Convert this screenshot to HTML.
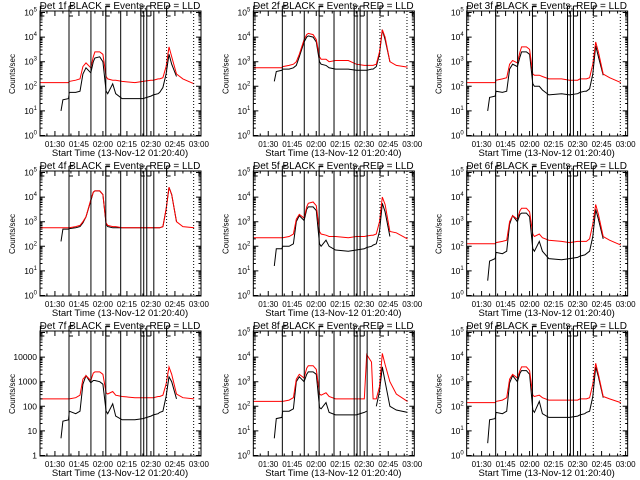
<!DOCTYPE html>
<html><head><meta charset="utf-8"><style>
html,body{margin:0;padding:0;background:#fff;}
svg{display:block;}
text{font-family:"Liberation Sans",sans-serif;fill:#000;}
</style></head><body>
<svg id="chart" width="640" height="480" viewBox="0 0 640 480" xmlns="http://www.w3.org/2000/svg"></svg>
<script>
const times = [80.7,93.8,95,98.5,99,103,105.7,107.5,109.4,112.4,114,115,118,120,122,123,126.1,128,132,140,145,150,151.5,154.5,155.5,157.5,159.5,161.3,163,166,170,177];
const n = null;
const red1 = [2.15,2.15,2.15,2.15,2.2,2.25,2.3,2.8,2.95,2.75,3.2,3.4,3.4,3.3,2.4,2.3,2.25,2.25,2.2,2.15,2.2,2.25,2.25,2.3,2.3,2.35,2.8,3.6,3.2,2.5,2.3,2.1];
const blk1 = [n,1.0,1.45,1.5,1.75,1.75,1.8,2.5,2.75,2.55,3.0,3.15,3.2,3.0,1.8,1.7,2.1,1.7,1.5,1.5,1.5,1.6,1.65,1.7,1.75,1.95,2.5,3.3,2.9,2.4,n,n];
const red2 = [2.75,2.75,2.75,2.75,2.8,2.85,2.9,3.0,3.3,3.9,4.1,4.15,4.1,3.9,3.2,3.1,3.1,3.0,3.05,3.05,2.9,2.85,2.85,2.85,2.85,2.9,3.4,4.3,4.0,3.0,2.85,2.78];
const blk2 = [n,2.2,2.6,2.65,2.7,2.7,2.75,2.85,3.2,3.8,4.0,4.05,4.0,3.8,3.0,2.9,2.85,2.75,2.7,2.7,2.65,2.65,2.65,2.7,2.7,2.8,3.3,4.3,3.9,3.0,n,n];
const red3 = [2.15,2.15,2.15,2.15,2.25,2.3,2.35,2.9,3.05,2.95,3.4,3.6,3.6,3.5,2.5,2.45,2.45,2.4,2.3,2.3,2.25,2.25,2.3,2.3,2.3,2.35,2.9,3.8,3.4,2.5,2.35,2.15];
const blk3 = [n,1.0,1.55,1.6,1.8,1.75,1.8,2.7,2.9,2.8,3.2,3.4,3.4,3.3,2.1,2.0,2.0,1.85,1.65,1.7,1.65,1.7,1.75,1.8,1.8,1.9,2.5,3.65,3.2,2.45,n,n];
const red4 = [2.75,2.75,2.75,2.75,2.75,2.8,2.85,3.0,3.2,3.9,4.2,4.25,4.25,4.1,2.95,2.85,2.8,2.8,2.75,2.75,2.75,2.75,2.75,2.75,2.75,2.8,3.5,4.4,4.1,3.0,2.8,2.75];
const blk4 = [n,2.2,2.7,2.7,2.72,2.75,2.8,2.95,3.2,3.85,4.2,4.25,4.25,4.1,2.9,2.8,2.75,2.75,2.75,2.75,2.75,2.75,2.75,2.75,2.75,2.8,3.5,4.4,4.1,3.0,n,n];
const red5 = [2.35,2.35,2.35,2.35,2.35,2.4,2.5,3.1,3.3,3.15,3.6,3.75,3.8,3.65,2.6,2.5,2.45,2.4,2.4,2.35,2.4,2.4,2.42,2.45,2.45,2.5,3.0,4.0,3.7,2.6,2.55,2.3];
const blk5 = [n,1.2,1.9,1.9,2.0,2.0,2.1,3.0,3.25,3.05,3.5,3.6,3.6,3.45,2.1,2.0,2.25,2.0,1.85,1.8,1.85,1.9,1.95,2.0,2.05,2.1,2.6,3.75,3.4,2.4,n,n];
const red6 = [2.1,2.1,2.1,2.1,2.15,2.2,2.25,3.0,3.25,3.1,3.45,3.55,3.55,3.4,2.5,2.4,2.5,2.35,2.25,2.2,2.15,2.2,2.2,2.2,2.2,2.3,2.9,3.7,3.3,2.4,2.25,2.05];
const blk6 = [n,0.6,1.4,1.5,1.75,1.7,1.8,2.9,3.25,3.0,3.3,3.35,3.35,3.2,1.9,1.8,2.2,1.8,1.5,1.45,1.5,1.55,1.6,1.65,1.7,1.8,2.4,3.5,3.1,2.3,n,n];
const red7 = [2.3,2.3,2.3,2.3,2.3,2.35,2.45,3.1,3.25,3.05,3.35,3.4,3.4,3.3,2.55,2.5,2.6,2.45,2.4,2.35,2.35,2.35,2.35,2.4,2.4,2.45,2.9,3.6,3.3,2.5,2.35,2.3];
const blk7 = [n,0.7,1.4,1.45,1.8,1.7,1.8,2.9,3.25,2.95,3.05,3.05,3.0,2.9,1.8,1.7,2.1,1.6,1.45,1.45,1.5,1.6,1.65,1.7,1.75,1.8,2.4,3.2,3.0,2.3,n,n];
const red8 = [2.2,2.2,2.2,2.2,2.2,2.25,2.35,3.1,3.3,3.15,3.55,3.65,3.65,3.5,2.5,2.45,2.55,2.4,2.3,2.3,2.3,2.3,4.1,3.8,2.3,2.3,2.8,4.15,3.7,3.0,2.5,2.2];
const blk8 = [n,0.7,1.5,1.55,1.8,1.8,1.9,3.0,3.2,3.0,3.3,3.4,3.4,3.3,1.95,1.9,2.15,1.75,1.65,1.65,1.65,1.75,1.8,n,n,2.0,2.6,3.6,3.0,2.0,1.85,1.75];
const red9 = [2.15,2.15,2.15,2.15,2.2,2.25,2.35,3.1,3.3,3.15,3.45,3.6,3.6,3.45,2.45,2.4,2.45,2.35,2.25,2.25,2.25,2.25,2.3,2.3,2.3,2.35,2.9,3.75,3.3,2.4,2.3,2.15];
const blk9 = [n,0.5,1.45,1.5,1.75,1.7,1.8,2.95,3.25,3.0,3.35,3.45,3.45,3.3,1.85,1.75,2.2,1.7,1.55,1.55,1.55,1.6,1.65,1.7,1.75,1.8,2.4,3.6,3.2,2.35,n,n];
const redSeries = [red1,red2,red3,red4,red5,red6,red7,red8,red9];
const blackSeries = [blk1,blk2,blk3,blk4,blk5,blk6,blk7,blk8,blk9];
const xTickTimes = [90,105,120,135,150,165,180];
const xTickLabels = ["01:30","01:45","02:00","02:15","02:30","02:45","03:00"];
const yTickDecades = [0,1,2,3,4,5];
const plainYLabels = ["1","10","100","1000","10000"];
const solidMarkers = [98.8,112.5,121.8,131.1,143.7,145.5,147.4,151.8];
const dottedMarkers = [159.8,176.7];
const flagMarkers = [80.9,98.8,121.8,143.7,147.4,159.8];

const svg = document.getElementById('chart');
const NS = 'http://www.w3.org/2000/svg';
function mk(tag, attrs, parent){
  const e = document.createElementNS(NS, tag);
  for (const k in attrs) e.setAttribute(k, attrs[k]);
  (parent||svg).appendChild(e);
  return e;
}
const T0 = 80.67, PXM = 1.6, DEC = 24.6;

for (let p = 0; p < 9; p++){
  const col = p % 3, row = Math.floor(p / 3);
  const ox = col * 213.33, oy = row * 160;
  const L = ox + 40, R = ox + 201, TOP = oy + 11, BOT = oy + 136, Y0 = oy + 135.5;
  const xs = t => L + (t - T0) * PXM;
  const ys = v => Y0 - v * DEC;
  const g = mk('g', {});
  
  

  [[blackSeries[p], '#000', 'black-events-line'], [redSeries[p], '#f00', 'red-lld-line']].forEach(([arr, color, nm]) => {
    let d = '', pen = false;
    for (let i = 0; i < times.length; i++){
      if (arr[i] === null){ pen = false; continue; }
      d += (pen ? 'L' : 'M') + xs(times[i]).toFixed(1) + ' ' + ys(arr[i]).toFixed(1);
      pen = true;
    }
    const path = mk('path', {d: d, fill: 'none', stroke: color, 'stroke-width': 1}, g);
    
    
  });

  solidMarkers.forEach(t => {
    const l = mk('line', {x1: xs(t), x2: xs(t), y1: TOP, y2: BOT, stroke: '#000', 'stroke-width': 1}, g);
    
    
  });
  dottedMarkers.forEach(t => {
    const l = mk('line', {x1: xs(t), x2: xs(t), y1: TOP, y2: BOT, stroke: '#000', 'stroke-width': 1, 'stroke-dasharray': '1,2'}, g);
    
    
  });
  flagMarkers.forEach(t => {
    const x = xs(t);
    const f = mk('path', {d: `M${x} ${TOP-5}L${x} ${TOP+5}M${x} ${TOP-5}L${x+4} ${TOP-5}M${x} ${TOP+5}L${x+4} ${TOP+5}`, fill: 'none', stroke: '#000', 'stroke-width': 1}, g);
    
    
  });

  const fr = mk('rect', {x: L, y: TOP, width: R - L, height: BOT - TOP, fill: 'none', stroke: '#000', 'stroke-width': 1}, g);
  
  

  let td = '';
  for (let t = 85; t <= 181; t += 5){
    const x = xs(t), len = (t % 15 === 0) ? 5 : 2.5;
    td += `M${x} ${BOT}L${x} ${BOT-len}M${x} ${TOP}L${x} ${TOP+len}`;
  }
  yTickDecades.forEach(dv => {
    const y = ys(dv);
    td += `M${L} ${y}L${L+5} ${y}M${R} ${y}L${R-5} ${y}`;
    if (dv < 5) for (let m = 2; m < 10; m++){
      const ym = ys(dv + Math.log10(m));
      td += `M${L} ${ym}L${L+2.5} ${ym}M${R} ${ym}L${R-2.5} ${ym}`;
    }
  });
  const tk = mk('path', {d: td, stroke: '#000', 'stroke-width': 1, fill: 'none'}, g);
  
  

  xTickTimes.forEach((t, i) => {
    const tx = mk('text', {x: xs(t), y: BOT + 11, 'font-size': 8, 'text-anchor': 'middle'}, g);
    tx.textContent = xTickLabels[i];
    
    
  });
  yTickDecades.forEach((dv, i) => {
    if (p === 6){
      if (i > 4) return;
      const ty = mk('text', {x: L - 3, y: ys(dv) + 3, 'font-size': 8.5, 'text-anchor': 'end'}, g);
      ty.textContent = plainYLabels[i];
      
      
    } else {
      const ty = mk('text', {x: L - 3, y: ys(dv) + 3, 'font-size': 8.5, 'text-anchor': 'end'}, g);
      ty.appendChild(document.createTextNode('10'));
      const sp = mk('tspan', {'font-size': 6, dy: -4}, ty);
      sp.textContent = String(dv);
      
      
    }
  });

  const title = mk('text', {x: ox + 120, y: oy + 9, 'font-size': 10, 'text-anchor': 'middle'}, g);
  title.textContent = 'Det ' + (p + 1) + 'f BLACK = Events, RED = LLD';
  
  

  const xt = mk('text', {x: ox + 120, y: oy + 156, 'font-size': 9.5, 'text-anchor': 'middle'}, g);
  xt.textContent = 'Start Time (13-Nov-12 01:20:40)';
  
  

  const yt = mk('text', {x: 0, y: 0, 'font-size': 8, 'text-anchor': 'middle', transform: `translate(${ox + 15},${oy + 74}) rotate(-90)`}, g);
  yt.textContent = 'Counts/sec';
  
  
}
</script>
</body></html>
